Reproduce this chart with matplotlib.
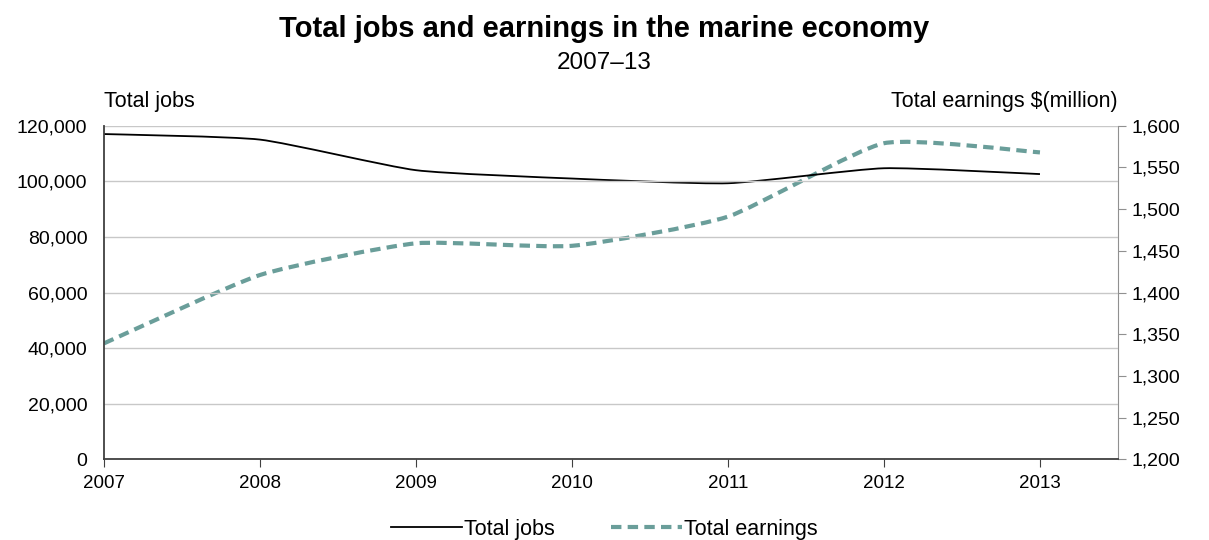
import numpy as np
import matplotlib
matplotlib.use("Agg")
import matplotlib.pyplot as plt
from matplotlib.path import Path
from matplotlib.patches import PathPatch
from matplotlib.lines import Line2D
from matplotlib.ticker import FuncFormatter, MultipleLocator

plt.rcParams['font.family'] = ['Liberation Sans', 'DejaVu Sans']

years = [2007, 2008, 2009, 2010, 2011, 2012, 2013]
total_jobs = [117000, 115000, 104000, 101000, 99300, 104700, 102600]
total_earnings = [1339, 1421, 1459, 1456, 1491, 1579, 1568]

JOBS_COLOR = '#000000'
EARN_COLOR = '#6a9e9a'
GRID_COLOR = '#c8c8c8'


def smooth_path(xs, ys, k=0.09):
    # lightly smoothed line: cubic bezier through each point
    pts = np.column_stack([xs, ys]).astype(float)
    n = len(pts)
    verts = [pts[0]]
    codes = [Path.MOVETO]
    for i in range(n - 1):
        p0 = pts[i - 1] if i > 0 else pts[i]
        p1 = pts[i]
        p2 = pts[i + 1]
        p3 = pts[i + 2] if i + 2 < n else pts[i + 1]
        c1 = p1 + (p2 - p0) * k
        c2 = p2 - (p3 - p1) * k
        verts += [c1, c2, p2]
        codes += [Path.CURVE4] * 3
    return Path(verts, codes)


fig = plt.figure(figsize=(12.09, 5.4), dpi=100)
ax = fig.add_axes([0.086, 0.1494, 0.8387, 0.6178])
ax2 = ax.twinx()

ax.set_xlim(2007, 2013.5)
ax.set_ylim(0, 120000)
ax2.set_ylim(1200, 1600)

# earnings under jobs
ax.set_zorder(2)
ax.patch.set_visible(False)

ax.add_patch(PathPatch(smooth_path(years, total_jobs), fill=False,
                       edgecolor=JOBS_COLOR, lw=1.3))
ax2.add_patch(PathPatch(smooth_path(years, total_earnings), fill=False,
                        edgecolor=EARN_COLOR, lw=3, linestyle=(0, (2.5, 1.5))))

ax.yaxis.set_major_locator(MultipleLocator(20000))
ax.yaxis.set_major_formatter(FuncFormatter(lambda v, p: f'{int(v):,}'))
ax.grid(axis='y', color=GRID_COLOR, lw=1)
ax2.yaxis.set_major_locator(MultipleLocator(50))
ax2.yaxis.set_major_formatter(FuncFormatter(lambda v, p: f'{int(v):,}'))
ax.set_xticks(years)
ax.set_xticklabels([str(y) for y in years])

for a in (ax, ax2):
    a.spines['top'].set_visible(False)
ax.spines['right'].set_visible(False)
ax2.spines['left'].set_visible(False)
ax2.spines['bottom'].set_visible(False)
ax.spines['left'].set_color('#404040')
ax.spines['left'].set_linewidth(1.3)
ax.spines['bottom'].set_color('#404040')
ax.spines['bottom'].set_linewidth(1.3)
ax2.spines['right'].set_color('#909090')

ax.tick_params(axis='y', length=0, labelsize=14, pad=12)
ax.tick_params(axis='x', length=6, color='#404040', labelsize=13.5, pad=5)
ax2.tick_params(axis='y', length=6, color='#909090', labelsize=14, pad=4)

fig.text(0.5, 0.947, 'Total jobs and earnings in the marine economy',
         ha='center', va='center', fontsize=21, fontweight='bold')
fig.text(0.5, 0.884, '2007\u201313', ha='center', va='center', fontsize=17.5)
fig.text(0.086, 0.812, 'Total jobs', ha='left', va='center', fontsize=15.5)
fig.text(0.9247, 0.812, 'Total earnings $(million)', ha='right', va='center',
         fontsize=15.5)

handles = [Line2D([], [], color=JOBS_COLOR, lw=1.3),
           Line2D([], [], color=EARN_COLOR, lw=3, linestyle=(0, (2.5, 1.5)))]
fig.legend(handles, ['Total jobs', 'Total earnings'], loc='center',
           bbox_to_anchor=(0.5, 0.02), ncol=2, frameon=False, fontsize=15.5,
           handlelength=3.3, handletextpad=0.1, columnspacing=2.6)

fig.savefig('out.png', dpi=100)
